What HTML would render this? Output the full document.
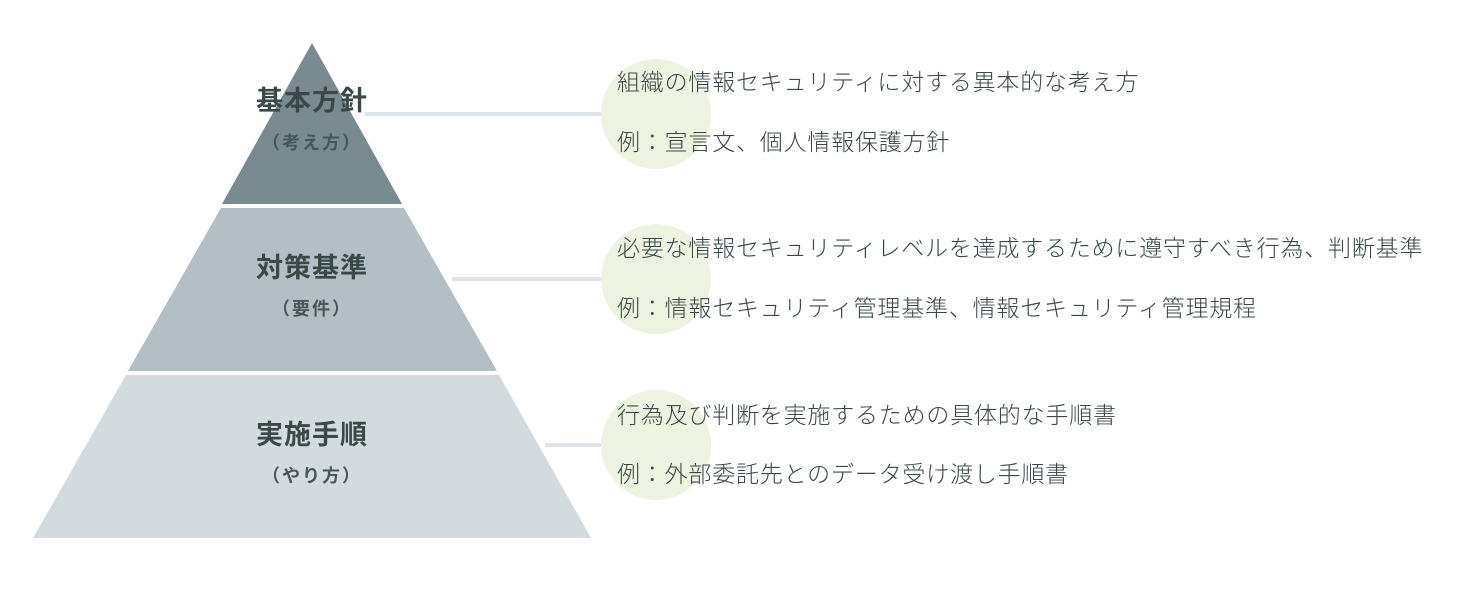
<!DOCTYPE html>
<html><head><meta charset="utf-8"><style>
body{margin:0;width:1459px;height:599px;background:#fff;overflow:hidden;position:relative;font-family:"Liberation Sans","Noto Sans CJK JP",sans-serif}
.t{position:absolute;white-space:nowrap;color:#3b4848;font-size:23px;line-height:1;letter-spacing:0.8px;font-weight:300}
.l{position:absolute;white-space:nowrap;color:#3b4848;text-align:center;width:200px;line-height:1}
.b{font-size:27px;font-weight:bold;letter-spacing:1px}
.s{font-size:18px;font-weight:bold;color:#4a5656;letter-spacing:2px}
</style></head><body>
<svg width="1459" height="599" style="position:absolute;left:0;top:0">
<circle cx="656" cy="114" r="55" fill="#eef3e1"/>
<circle cx="656" cy="279" r="55" fill="#eef3e1"/>
<circle cx="656" cy="445" r="55" fill="#eef3e1"/>
<polygon points="312,43 402,204 222,204" fill="#798a90"/>
<polygon points="221,208 404,208 497,371 128,371" fill="#b4bfc5"/>
<polygon points="126,375 499,375 591,538 33,538" fill="#d3dbdf"/>
<rect x="365" y="112" width="236" height="4" fill="#dde3e7"/>
<rect x="452" y="277" width="149" height="4" fill="#dde3e7"/>
<rect x="545" y="443" width="56" height="4" fill="#dde3e7"/>
</svg>
<div class="l b" style="left:212px;top:88px">基本方針</div>
<div class="l s" style="left:212px;top:134px">（考え方）</div>
<div class="l b" style="left:212px;top:255px">対策基準</div>
<div class="l s" style="left:212px;top:300px">（要件）</div>
<div class="l b" style="left:212px;top:422px">実施手順</div>
<div class="l s" style="left:212px;top:467px">（やり方）</div>
<div class="t" style="left:617px;top:71px">組織の情報セキュリティに対する異本的な考え方</div>
<div class="t" style="left:617px;top:131px">例：宣言文、個人情報保護方針</div>
<div class="t" style="left:617px;top:237px">必要な情報セキュリティレベルを達成するために遵守すべき行為、判断基準</div>
<div class="t" style="left:617px;top:297px">例：情報セキュリティ管理基準、情報セキュリティ管理規程</div>
<div class="t" style="left:617px;top:404px">行為及び判断を実施するための具体的な手順書</div>
<div class="t" style="left:617px;top:463px">例：外部委託先とのデータ受け渡し手順書</div>
</body></html>
